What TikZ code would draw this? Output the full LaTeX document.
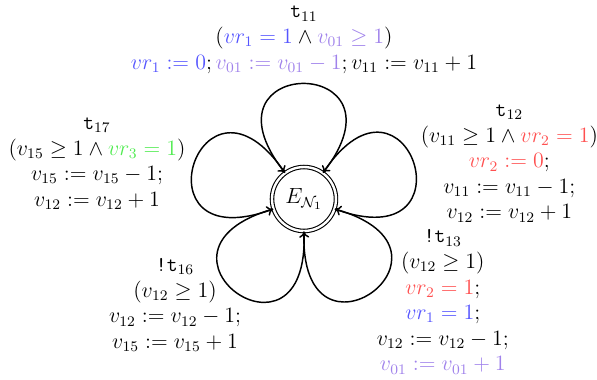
\documentclass[tikz,border=0pt]{standalone}
\usepackage{amsmath,amssymb}
\usetikzlibrary{positioning,arrows.meta}
\definecolor{VrOne}{RGB}{85,85,255}
\definecolor{VZero}{RGB}{160,130,235}
\definecolor{VrTwo}{RGB}{255,80,80}
\definecolor{VrThree}{RGB}{80,235,80}
\begin{document}
\begin{tikzpicture}[
  env/.style={circle,draw,semithick,double,double distance=1.3pt,minimum size=1.23cm,inner sep=0pt,font=\fontsize{11.5}{14}\selectfont},
  selfloop/.style={-{To[length=3.4pt,width=5.5pt]},thick,distance=2.9cm},
  trans/.style={align=center,inner sep=1pt,font=\fontsize{11.5}{14}\selectfont}]
\useasboundingbox (-5.846,-3.462) rectangle (5.635,3.827);
\node[env] (E) at (0,0) {$E_{\mathcal{N}_1}$};
% self loops, one per transition
\draw[selfloop] (E.54) to[out=52,in=128] (E.126);
\draw[selfloop] (E.-18) to[out=-20,in=56] (E.54);
\draw[selfloop] (E.-90) to[out=-92,in=-16] (E.-18);
\draw[selfloop] (E.198) to[out=196,in=272] (E.-90);
\draw[selfloop] (E.126) to[out=124,in=200] (E.198);
% transition labels
\node[trans] (t11) at (0,3.06) {\texttt{t}$_{11}$\\
  $({\color{VrOne}vr_1=1}\wedge{\color{VZero}v_{01}\geq 1})$\\
  ${\color{VrOne}vr_1:=0};{\color{VZero}v_{01}:=v_{01}-1};v_{11}:=v_{11}+1$};
\node[trans] (t12) at (3.95,0.68) {\texttt{t}$_{12}$\\
  $(v_{11}\geq 1\wedge{\color{VrTwo}vr_2=1})$\\
  ${\color{VrTwo}vr_2:=0};$\\ $v_{11}:=v_{11}-1;$\\ $v_{12}:=v_{12}+1$};
\node[trans] (t13) at (2.67,-1.98) {\texttt{!t}$_{13}$\\
  $(v_{12}\geq 1)$\\ ${\color{VrTwo}vr_2=1};$\\ ${\color{VrOne}vr_1=1};$\\
  $v_{12}:=v_{12}-1;$\\ ${\color{VZero}v_{01}:=v_{01}+1}$};
\node[trans] (t16) at (-2.48,-2.04) {\texttt{!t}$_{16}$\\
  $(v_{12}\geq 1)$\\ $v_{12}:=v_{12}-1;$\\ $v_{15}:=v_{15}+1$};
\node[trans] (t17) at (-3.98,0.68) {\texttt{t}$_{17}$\\
  $(v_{15}\geq 1\wedge{\color{VrThree}vr_3=1})$\\
  $v_{15}:=v_{15}-1;$\\ $v_{12}:=v_{12}+1$};
\end{tikzpicture}
\end{document}
